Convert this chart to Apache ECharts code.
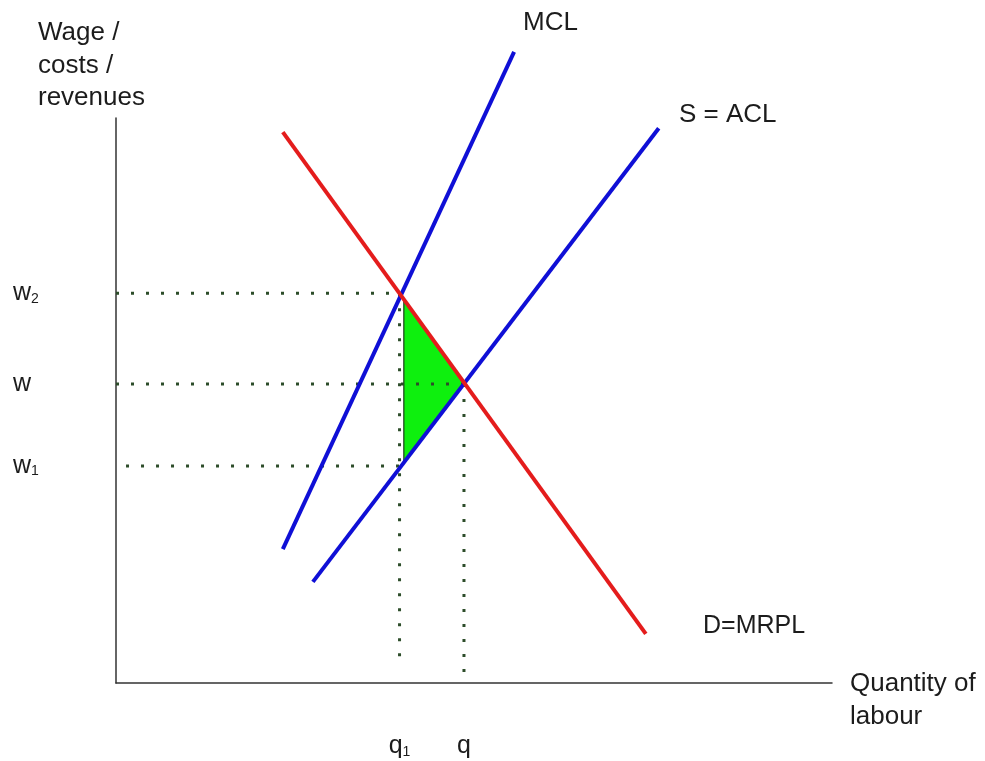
<!DOCTYPE html>
<html>
<head>
<meta charset="utf-8">
<title>Monopsony labour market</title>
<script src="https://cdn.jsdelivr.net/npm/echarts@6/dist/echarts.min.js"></script>
<style>
  html, body { margin: 0; padding: 0; background: #ffffff; }
  #chart { width: 985px; height: 761px; }
</style>
</head>
<body>
<div id="chart"></div>
<script>
// Curves, each given by its two end points (quantity, wage)
const demandMRPL = [[23.3, 97.5], [74.0, 8.7]];
const marginalCostLabour = [[23.3, 23.7], [55.6, 111.7]];
const supplyACL = [[27.5, 17.9], [75.8, 98.2]];

// Wage levels marked on the vertical axis: w1, w, w2
const wageValues = [38.4, 52.9, 69.0];
const wageLabelMain = ['w', 'w', 'w'];
const wageLabelSub = ['1', '', '2'];

// Quantities marked on the horizontal axis: q1, q
const quantityValues = [39.6, 48.6];
const quantityLabelMain = ['q', 'q'];
const quantityLabelSub = ['1', ''];

// Welfare-loss triangle between D, S and the q1 line
const deadweightTriangle = [[40.2, 67.9], [48.6, 53.0], [40.2, 39.0]];

const [w1, w, w2] = wageValues;
const [q1, q] = quantityValues;

const FONT = "'Liberation Sans', Arial, sans-serif";
const TEXT = '#1c1c1c';
const RED = '#e41c1c';
const BLUE = '#0f0fd6';
const DOT = '#2d4d2a';

function guide(points) {
  return {
    type: 'line',
    data: points,
    symbol: 'none',
    silent: true,
    clip: false,
    z: 3,
    lineStyle: { color: DOT, width: 3, type: [3, 12], cap: 'butt' }
  };
}

function curve(points, color) {
  return {
    type: 'line',
    data: points,
    symbol: 'none',
    silent: true,
    clip: false,
    z: 5,
    lineStyle: { color: color, width: 4, cap: 'butt' }
  };
}

function tickFormatter(values, mains, subs) {
  return function (value) {
    let idx = 0, best = Infinity;
    values.forEach(function (v, i) {
      const d = Math.abs(v - value);
      if (d < best) { best = d; idx = i; }
    });
    return '{m|' + mains[idx] + '}' + (subs[idx] ? '{s|' + subs[idx] + '}' : '');
  };
}

const tickRich = {
  m: { fontFamily: FONT, fontSize: 25, lineHeight: 25, color: TEXT },
  s: { fontFamily: FONT, fontSize: 14, lineHeight: 18, color: TEXT, verticalAlign: 'bottom' }
};

const chart = echarts.init(document.getElementById('chart'), null, { renderer: 'canvas' });

chart.setOption({
  animation: false,
  backgroundColor: '#ffffff',
  grid: {
    left: 116, right: 153, top: 118, bottom: 78,
    containLabel: false,
    outerBoundsMode: 'none'
  },
  xAxis: {
    type: 'value',
    min: 0, max: 100,
    axisLine: { show: true, onZero: false, lineStyle: { color: '#333333', width: 1.5 } },
    axisTick: { show: false },
    splitLine: { show: false },
    axisLabel: {
      show: true,
      customValues: quantityValues,
      margin: 51,
      formatter: tickFormatter(quantityValues, quantityLabelMain, quantityLabelSub),
      rich: tickRich
    }
  },
  yAxis: {
    type: 'value',
    min: 0, max: 100,
    axisLine: { show: true, onZero: false, lineStyle: { color: '#333333', width: 1.5 } },
    axisTick: { show: false },
    splitLine: { show: false },
    axisLabel: {
      show: true,
      customValues: wageValues,
      align: 'left',
      margin: 103,
      formatter: tickFormatter(wageValues, wageLabelMain, wageLabelSub),
      rich: tickRich
    }
  },
  series: [
    {
      type: 'custom',
      data: deadweightTriangle,
      silent: true,
      z: 1,
      renderItem: function (params, api) {
        if (params.dataIndex !== 0) return null;
        const pts = deadweightTriangle.map(function (p) { return api.coord(p); });
        return {
          type: 'polygon',
          shape: { points: pts },
          style: { fill: '#0ef00e', stroke: '#1f3a1f', lineWidth: 1.2 }
        };
      }
    },
    guide([[0, w2], [q1, w2]]),
    guide([[0, w], [q, w]]),
    guide([[1.4, w1], [q1, w1]]),
    guide([[q1, w2], [q1, 3.9]]),
    guide([[q, w], [q, 0]]),
    curve(marginalCostLabour, BLUE),
    curve(supplyACL, BLUE),
    curve(demandMRPL, RED)
  ],
  graphic: [
    { type: 'text', left: 38, top: 17, silent: true,
      style: { text: 'Wage /\ncosts /\nrevenues', fontFamily: FONT, fontSize: 26, lineHeight: 32.5, fill: TEXT } },
    { type: 'text', left: 523, top: 7, silent: true,
      style: { text: 'MCL', fontFamily: FONT, fontSize: 26, lineHeight: 32.5, fill: TEXT } },
    { type: 'text', left: 679, top: 99, silent: true,
      style: { text: 'S = ACL', fontFamily: FONT, fontSize: 26, lineHeight: 32.5, fill: TEXT } },
    { type: 'text', left: 703, top: 610, silent: true,
      style: { text: 'D=MRPL', fontFamily: FONT, fontSize: 25, lineHeight: 32.5, fill: TEXT } },
    { type: 'text', left: 850, top: 668, silent: true,
      style: { text: 'Quantity of\nlabour', fontFamily: FONT, fontSize: 26, lineHeight: 32.5, fill: TEXT } }
  ]
});
</script>
</body>
</html>
